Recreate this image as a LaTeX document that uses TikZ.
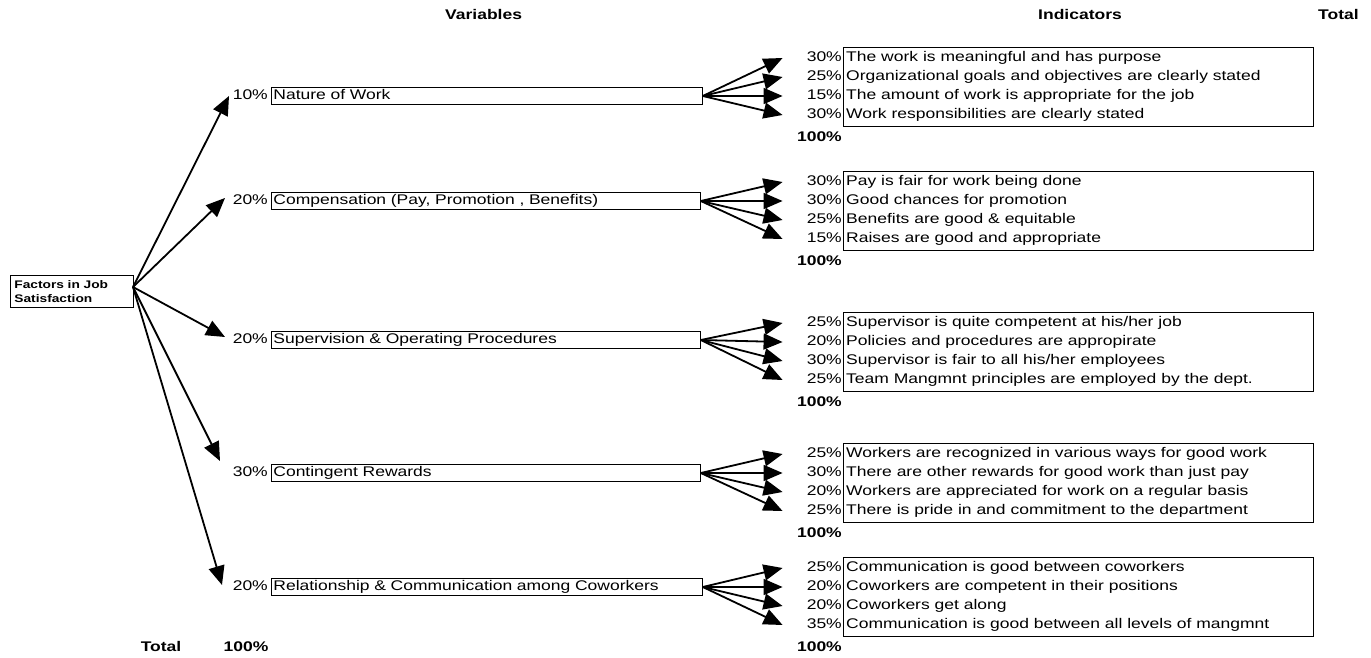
\documentclass[tikz,border=0pt]{standalone}
\usepackage{fontspec}
\usetikzlibrary{arrows.meta}
\newfontfamily\af{Liberation Sans}[FakeStretch=1.25]
\begin{document}
\begin{tikzpicture}[x=1pt,y=-1pt,
  txt/.style={font=\af\fontsize{14}{16}\selectfont, inner sep=0pt, text height=10pt, text depth=3pt},
  pct/.style={txt, anchor=east},
  itxt/.style={txt, anchor=west},
  hd/.style={font=\af\bfseries\fontsize{14}{16}\selectfont, inner sep=0pt, anchor=west, text height=10pt, text depth=3pt},
  varbox/.style={draw, line width=0.8pt, anchor=west, minimum height=17pt, inner sep=2pt, align=left,
     text width=425pt, font=\af\fontsize{14}{16}\selectfont, text height=10pt, text depth=3pt},
  indbox/.style={draw, line width=0.8pt, anchor=north west, minimum width=470pt, minimum height=79pt, inner sep=0pt},
  arr/.style={line width=1.8pt, -{Triangle[length=19pt,width=16pt]}},
]
\useasboundingbox (0,0) rectangle (1371,658);

% headings
\node[hd] (hvar) at (445,16) {Variables};
\node[hd] (hind) at (1038,16) {Indicators};
\node[hd] (htot) at (1318,16) {Total};

% root
\node[draw, line width=0.8pt, anchor=north west, minimum width=123pt, minimum height=32pt,
      text width=115pt, inner sep=4pt, align=left,
      font=\af\bfseries\fontsize{11}{14}\selectfont] (root) at (10,275) {Factors in Job\\Satisfaction};
\coordinate (rs) at (133,287);

% variables
\node[pct] (p1) at (268,96) {10\%};
\node[varbox, text width=427pt] (v1) at (271,96) {Nature of Work};
\node[pct] (p2) at (268,201) {20\%};
\node[varbox] (v2) at (271,201) {Compensation (Pay, Promotion , Benefits)};
\node[pct] (p3) at (268,340) {20\%};
\node[varbox] (v3) at (271,340) {Supervision \& Operating Procedures};
\node[pct] (p4) at (268,473) {30\%};
\node[varbox] (v4) at (271,473) {Contingent Rewards};
\node[pct] (p5) at (268,587) {20\%};
\node[varbox, text width=427pt] (v5) at (271,587) {Relationship \& Communication among Coworkers};

% root arrows
\coordinate (t1) at (229,96);
\coordinate (t2) at (225,198);
\coordinate (t3) at (225,337);
\coordinate (t4) at (220,461);
\coordinate (t5) at (222,585);
\foreach \k in {1,...,5} \draw[arr] (rs) -- (t\k);

% indicator boxes
\node[indbox] (b1) at (843,47) {};
\node[indbox] (b2) at (843,171) {};
\node[indbox] (b3) at (843,312) {};
\node[indbox] (b4) at (843,443) {};
\node[indbox] (b5) at (843,557) {};

% group 1
\node[pct] (a1p) at (842,58) {30\%};  \node[itxt] (a1t) at (846,58) {The work is meaningful and has purpose};
\node[pct] (a2p) at (842,77) {25\%};  \node[itxt] (a2t) at (846,77) {Organizational goals and objectives are clearly stated};
\node[pct] (a3p) at (842,96) {15\%};  \node[itxt] (a3t) at (846,96) {The amount of work is appropriate for the job};
\node[pct] (a4p) at (842,115) {30\%}; \node[itxt] (a4t) at (846,115) {Work responsibilities are clearly stated};
\node[hd, anchor=east] (a100) at (842,138) {100\%};

% group 2
\node[pct] (b1p) at (842,182) {30\%}; \node[itxt] (b1t) at (846,182) {Pay is fair for work being done};
\node[pct] (b2p) at (842,201) {30\%}; \node[itxt] (b2t) at (846,201) {Good chances for promotion};
\node[pct] (b3p) at (842,220) {25\%}; \node[itxt] (b3t) at (846,220) {Benefits are good \& equitable};
\node[pct] (b4p) at (842,239) {15\%}; \node[itxt] (b4t) at (846,239) {Raises are good and appropriate};
\node[hd, anchor=east] (b100) at (842,262) {100\%};

% group 3
\node[pct] (c1p) at (842,323) {25\%}; \node[itxt] (c1t) at (846,323) {Supervisor is quite competent at his/her job};
\node[pct] (c2p) at (842,342) {20\%}; \node[itxt] (c2t) at (846,342) {Policies and procedures are appropirate};
\node[pct] (c3p) at (842,361) {30\%}; \node[itxt] (c3t) at (846,361) {Supervisor is fair to all his/her employees};
\node[pct] (c4p) at (842,380) {25\%}; \node[itxt] (c4t) at (846,380) {Team Mangmnt principles are employed by the dept.};
\node[hd, anchor=east] (c100) at (842,403) {100\%};

% group 4
\node[pct] (d1p) at (842,454) {25\%}; \node[itxt] (d1t) at (846,454) {Workers are recognized in various ways for good work};
\node[pct] (d2p) at (842,473) {30\%}; \node[itxt] (d2t) at (846,473) {There are other rewards for good work than just pay};
\node[pct] (d3p) at (842,492) {20\%}; \node[itxt] (d3t) at (846,492) {Workers are appreciated for work on a regular basis};
\node[pct] (d4p) at (842,511) {25\%}; \node[itxt] (d4t) at (846,511) {There is pride in and commitment to the department};
\node[hd, anchor=east] (d100) at (842,534) {100\%};

% group 5
\node[pct] (e1p) at (842,568) {25\%}; \node[itxt] (e1t) at (846,568) {Communication is good between coworkers};
\node[pct] (e2p) at (842,587) {20\%}; \node[itxt] (e2t) at (846,587) {Coworkers are competent in their positions};
\node[pct] (e3p) at (842,606) {20\%}; \node[itxt] (e3t) at (846,606) {Coworkers get along};
\node[pct] (e4p) at (842,625) {35\%}; \node[itxt] (e4t) at (846,625) {Communication is good between all levels of mangmnt};
\node[hd, anchor=east] (e100) at (842,648) {100\%};

% fan arrows
\foreach \g/\v in {a/v1,b/v2,c/v3,d/v4,e/v5}
  \foreach \r in {1,...,4}
    \draw[arr] (\v.east) -- ([xshift=-24pt]\g\r p.west);

% bottom totals
\node[hd, anchor=center] (tot) at (161,648) {Total};
\node[hd, anchor=center] (tot100) at (246,648) {100\%};
\end{tikzpicture}
\end{document}
